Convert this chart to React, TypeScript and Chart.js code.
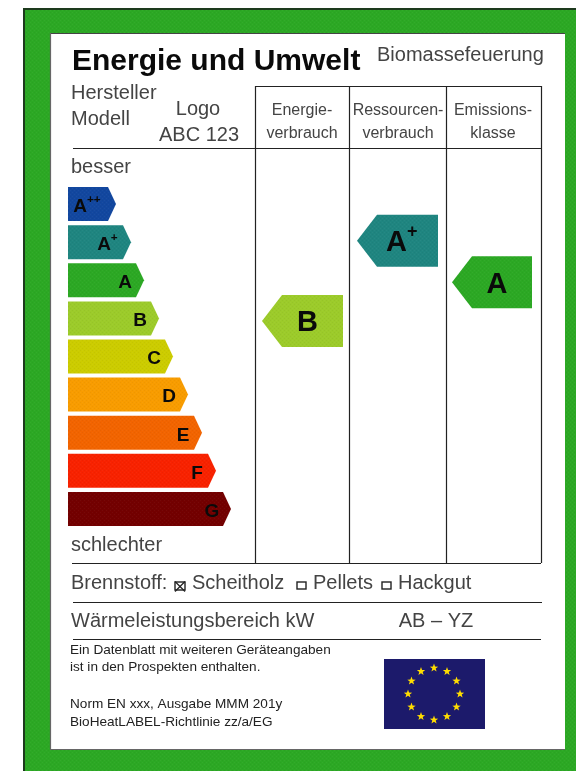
import React, { useEffect, useRef } from "react";
import { Chart, registerables } from "chart.js";

Chart.register(...registerables);

const classLabels = ["A++", "A+", "A", "B", "C", "D", "E", "F", "G"];
const classLengths = [48, 63, 76, 91, 105, 120, 134, 148, 163];
const classColors = ["#12479f", "#1f8580", "#2ca824", "#9ccb2a", "#cccc00", "#f89c00", "#f26400", "#f82200", "#730000"];
const ratingColumns = ["Energieverbrauch", "Ressourcenverbrauch", "Emissionsklasse"];
const ratingClasses = ["B", "A+", "A"];
const ratingStart = [194, 289, 384];
const ratingEnd = [275, 370, 464];
const ratingNudge = [2.5, -1.5, 2];

const FONT = '"Liberation Sans", Arial, sans-serif';
const INK = "#444444";
const GREEN = "#2ca824";

let dither: CanvasPattern | null = null;
function ditherPattern(ctx: CanvasRenderingContext2D) {
  if (dither) return dither;
  const p = document.createElement("canvas");
  p.width = 4;
  p.height = 4;
  const g = p.getContext("2d")!;
  g.fillStyle = "rgba(255,255,255,0.035)";
  g.fillRect(0, 0, 1, 1);
  g.fillRect(2, 2, 1, 1);
  g.fillStyle = "rgba(0,0,0,0.035)";
  g.fillRect(2, 0, 1, 1);
  g.fillRect(0, 2, 1, 1);
  dither = ctx.createPattern(p, "repeat");
  return dither;
}

function put(ctx: CanvasRenderingContext2D, s: string, x: number, y: number, size: number, o: any = {}) {
  ctx.font = `${o.bold ? "bold " : ""}${size}px ${FONT}`;
  ctx.fillStyle = o.color || INK;
  ctx.textAlign = o.align || "left";
  ctx.textBaseline = "alphabetic";
  ctx.fillText(s, x, y);
}

function line(ctx: CanvasRenderingContext2D, x1: number, y1: number, x2: number, y2: number, c = "#222") {
  const v = x1 === x2;
  ctx.strokeStyle = c;
  ctx.lineWidth = 1.2;
  ctx.beginPath();
  ctx.moveTo(v ? x1 + 0.5 : x1, v ? y1 : y1 + 0.5);
  ctx.lineTo(v ? x2 + 0.5 : x2, v ? y2 : y2 + 0.5);
  ctx.stroke();
}

function gradeText(ctx: CanvasRenderingContext2D, label: string, cx: number, cy: number, size: number) {
  const base = label[0];
  const sup = label.slice(1);
  ctx.font = `bold ${size}px ${FONT}`;
  const w = ctx.measureText(base).width;
  const supW = sup ? sup.length * size * 0.42 : 0;
  const left = cx - (w + supW) / 2;
  put(ctx, base, left, cy + size * 0.36, size, { bold: true, color: "#0a0a0a" });
  if (sup) put(ctx, sup, left + w, cy - size * 0.12, size * 0.62, { bold: true, color: "#0a0a0a" });
}

const labelPlugin = {
  id: "energyLabel",
  beforeDraw(chart: any) {
    const c: CanvasRenderingContext2D = chart.ctx;
    c.save();
    c.fillStyle = "#ffffff";
    c.fillRect(0, 0, 576, 771);
    c.fillStyle = GREEN;
    c.fillRect(24, 9, 552, 762);
    c.fillStyle = ditherPattern(c)!;
    c.fillRect(24, 9, 552, 762);
    c.fillStyle = "#ffffff";
    c.fillRect(50, 33, 515, 716);
    c.fillStyle = "#1d3a1d";
    c.fillRect(23, 8, 553, 2);
    c.fillRect(23, 8, 2, 763);
    line(c, 50, 33, 565, 33, "#444");
    line(c, 50, 33, 50, 749, "#666");
    line(c, 50, 749, 565, 749, "#666");

    line(c, 255, 86, 541, 86);
    [255, 349, 446, 541].forEach((x) => line(c, x, 86, x, 563));
    line(c, 73, 148, 541, 148);
    line(c, 72, 563, 541, 563);
    line(c, 73, 602, 542, 602);
    line(c, 73, 639, 541, 639);

    put(c, "Energie und Umwelt", 72, 70, 30, { bold: true, color: "#0a0a0a" });
    put(c, "Biomassefeuerung", 377, 61, 20);
    put(c, "Hersteller", 71, 99, 20);
    put(c, "Modell", 71, 125, 20);
    put(c, "Logo", 198, 115, 20, { align: "center" });
    put(c, "ABC 123", 199, 141, 20, { align: "center" });

    const heads = [["Energie-", "verbrauch", 302], ["Ressourcen-", "verbrauch", 398], ["Emissions-", "klasse", 493]] as const;
    heads.forEach(([a, b, x]) => {
      put(c, a, x, 115, 16, { align: "center" });
      put(c, b, x, 138, 16, { align: "center" });
    });

    put(c, "besser", 71, 173, 20);
    put(c, "schlechter", 71, 551, 20);

    put(c, "Brennstoff:", 71, 589, 20);
    put(c, "Scheitholz", 192, 589, 20);
    put(c, "Pellets", 313, 589, 20);
    put(c, "Hackgut", 398, 589, 20);
    c.lineWidth = 1.4;
    c.strokeStyle = "#222";
    c.strokeRect(175, 582, 10, 8);
    c.strokeRect(297, 582, 9, 7);
    c.strokeRect(382, 582, 9, 7);
    line(c, 175, 581, 185, 591);
    line(c, 185, 581, 175, 591);

    put(c, "Wärmeleistungsbereich kW", 71, 627, 20);
    put(c, "AB – YZ", 436, 627, 20, { align: "center" });

    put(c, "Ein Datenblatt mit weiteren Geräteangaben", 70, 654, 13.6, { color: "#222" });
    put(c, "ist in den Prospekten enthalten.", 70, 671, 13.6, { color: "#222" });
    put(c, "Norm EN xxx, Ausgabe MMM 201y", 70, 708, 13.6, { color: "#222" });
    put(c, "BioHeatLABEL-Richtlinie zz/a/EG", 70, 726, 13.6, { color: "#222" });

    c.fillStyle = "#1c1a6b";
    c.fillRect(384, 659, 101, 70);
    c.fillStyle = "#ffdd00";
    for (let i = 0; i < 12; i++) {
      const a = (i * Math.PI) / 6;
      const sx = 434 + 26 * Math.sin(a);
      const sy = 694 - 26 * Math.cos(a);
      c.beginPath();
      for (let k = 0; k < 10; k++) {
        const r = k % 2 ? 1.8 : 4.4;
        const t = (k * Math.PI) / 5;
        c.lineTo(sx + r * Math.sin(t), sy - r * Math.cos(t));
      }
      c.closePath();
      c.fill();
    }
    c.restore();
  },
  beforeDatasetDraw(chart: any, args: any) {
    const c: CanvasRenderingContext2D = chart.ctx;
    const ds = chart.data.datasets[args.index];
    const meta = args.meta;
    c.save();
    meta.data.forEach((el: any, i: number) => {
      if (ds.data[i] == null) return;
      const hh = el.height / 2;
      const colors = ds.backgroundColor;
      c.fillStyle = Array.isArray(colors) ? colors[i] : colors;
      c.beginPath();
      if (ds.pointing === "left") {
        const y = el.y + ratingNudge[ds.columnIndex];
        const tip = el.base;
        c.moveTo(tip, y);
        c.lineTo(tip + 20, y - hh);
        c.lineTo(el.x, y - hh);
        c.lineTo(el.x, y + hh);
        c.lineTo(tip + 20, y + hh);
        c.closePath();
        c.fill();
        c.fillStyle = ditherPattern(c)!;
        c.fill();
        gradeText(c, ratingClasses[ds.columnIndex], (tip + 16 + el.x) / 2 - 3, y, 29);
      } else {
        const tip = el.x;
        c.moveTo(el.base, el.y - hh);
        c.lineTo(tip - 8, el.y - hh);
        c.lineTo(tip, el.y);
        c.lineTo(tip - 8, el.y + hh);
        c.lineTo(el.base, el.y + hh);
        c.closePath();
        c.fill();
        c.fillStyle = ditherPattern(c)!;
        c.fill();
        const off = i === 0 ? 28 : i === 1 ? 23 : 19;
        gradeText(c, classLabels[i], tip - off, el.y + 1, 19);
      }
    });
    c.restore();
    return false;
  },
};

export default function App() {
  const ref = useRef<HTMLCanvasElement>(null);
  useEffect(() => {
    const ratingSets = ratingColumns.map((name, col) => ({
      label: name,
      data: classLabels.map((l) => (l === ratingClasses[col] ? [ratingStart[col], ratingEnd[col]] : null)),
      backgroundColor: classColors[classLabels.indexOf(ratingClasses[col])],
      barThickness: 52,
      grouped: false,
      pointing: "left",
      columnIndex: col,
    }));
    const chart = new Chart(ref.current!, {
      type: "bar",
      data: {
        labels: classLabels,
        datasets: [
          { label: "Klassen", data: classLengths, backgroundColor: classColors, barThickness: 34, grouped: false } as any,
          ...(ratingSets as any[]),
        ],
      },
      options: {
        indexAxis: "y",
        responsive: false,
        animation: false,
        layout: { padding: { left: 68, right: 36, top: 185, bottom: 243 } },
        scales: {
          x: { type: "linear", min: 0, max: 472, display: false },
          y: { type: "category", display: false },
        },
        plugins: { legend: { display: false }, tooltip: { enabled: false } },
      },
      plugins: [labelPlugin as any],
    });
    return () => chart.destroy();
  }, []);
  return (
    <canvas
      ref={ref}
      width={576}
      height={771}
      style={{ position: "absolute", left: 0, top: 0, display: "block", width: 576, height: 771, filter: "blur(0.4px)" }}
    />
  );
}
